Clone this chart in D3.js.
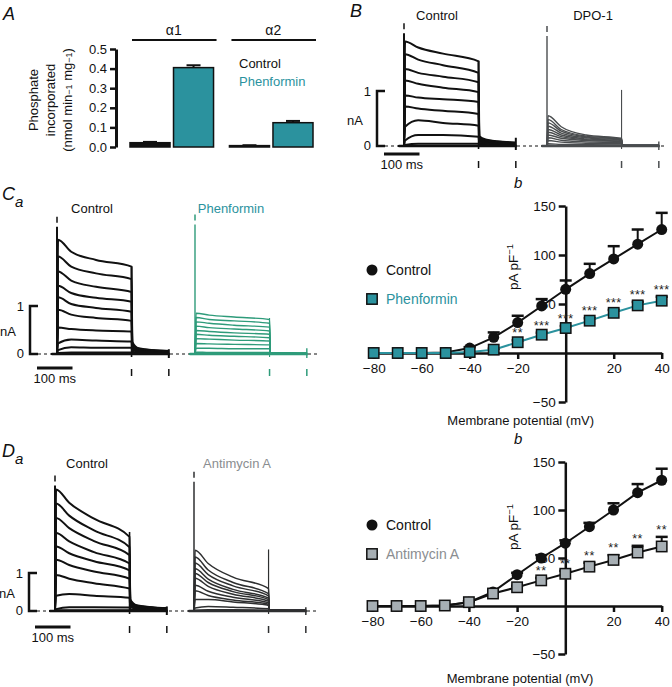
<!DOCTYPE html>
<html>
<head>
<meta charset="utf-8">
<script src="https://cdn.jsdelivr.net/npm/d3@7"></script>
<style>
  body { margin: 0; background: #fff; }
  text { font-family: "Liberation Sans", Arial, Helvetica, sans-serif; }
</style>
</head>
<body>
<script>
// ---------- data ----------
// Panel A: kinase activity
var isoforms = ["α1", "α2"];
var conditionsA = ["Control", "Phenformin"];
var activityA = [[0.022, 0.405], [0.007, 0.124]];
var activityErrA = [[0.004, 0.012], [0.002, 0.009]];
var ticksA = [0, 0.1, 0.2, 0.3, 0.4, 0.5];

// current traces: values (nA) at these times (ms from step onset)
var traceTimes = [-15, 0, 3, 40, 110, 210, 212, 230, 315];
// each trace: [t3, t40, t110, t210, tail212, tail230, tail315]
var tracesBCtrl = [
  [1.90, 1.79, 1.68, 1.54, 0.18, 0.12, 0.06],
  [1.67, 1.57, 1.47, 1.33, 0.16, 0.11, 0.06],
  [1.40, 1.33, 1.26, 1.16, 0.15, 0.10, 0.05],
  [1.19, 1.13, 1.06, 0.98, 0.13, 0.09, 0.05],
  [0.92, 0.88, 0.85, 0.80, 0.12, 0.08, 0.04],
  [0.72, 0.68, 0.64, 0.58, 0.10, 0.07, 0.04],
  [0.35, 0.47, 0.42, 0.37, 0.08, 0.06, 0.03],
  [0.10, 0.20, 0.20, 0.17, 0.06, 0.04, 0.02],
  [0.02, 0.04, 0.04, 0.04, 0.03, 0.02, 0.01]
];
var tracesDPO = [
  [0.55, 0.35, 0.20, 0.14, 0.02, 0.01, 0.01],
  [0.48, 0.30, 0.18, 0.13, 0.02, 0.01, 0.01],
  [0.42, 0.27, 0.165, 0.12, 0.02, 0.01, 0.01],
  [0.36, 0.235, 0.15, 0.11, 0.02, 0.01, 0.01],
  [0.30, 0.20, 0.13, 0.10, 0.02, 0.01, 0.01],
  [0.25, 0.17, 0.115, 0.09, 0.02, 0.01, 0.01],
  [0.20, 0.14, 0.10, 0.08, 0.02, 0.01, 0.01],
  [0.15, 0.105, 0.075, 0.06, 0.02, 0.01, 0.01],
  [0.10, 0.07, 0.05, 0.04, 0.02, 0.01, 0.01],
  [0.04, 0.03, 0.025, 0.02, 0.01, 0.01, 0.01]
];
var tracesCCtrl = [
  [2.38, 2.13, 1.96, 1.82, 0.25, 0.12, 0.06],
  [2.03, 1.82, 1.68, 1.56, 0.22, 0.11, 0.06],
  [1.72, 1.53, 1.40, 1.29, 0.20, 0.10, 0.05],
  [1.42, 1.27, 1.17, 1.09, 0.18, 0.09, 0.05],
  [1.18, 1.04, 0.96, 0.88, 0.16, 0.08, 0.04],
  [0.92, 0.82, 0.75, 0.69, 0.14, 0.07, 0.04],
  [0.55, 0.52, 0.49, 0.47, 0.12, 0.06, 0.03],
  [0.22, 0.30, 0.28, 0.26, 0.08, 0.05, 0.03],
  [0.08, 0.14, 0.13, 0.13, 0.05, 0.03, 0.02],
  [0.02, 0.03, 0.03, 0.03, 0.02, 0.01, 0.01]
];
var tracesPhen = [
  [0.85, 0.81, 0.77, 0.72, 0.03, 0.02, 0.01],
  [0.76, 0.72, 0.69, 0.64, 0.03, 0.02, 0.01],
  [0.67, 0.64, 0.60, 0.56, 0.03, 0.02, 0.01],
  [0.58, 0.55, 0.52, 0.48, 0.03, 0.02, 0.01],
  [0.49, 0.47, 0.44, 0.41, 0.03, 0.02, 0.01],
  [0.41, 0.39, 0.37, 0.34, 0.03, 0.02, 0.01],
  [0.32, 0.31, 0.29, 0.27, 0.03, 0.02, 0.01],
  [0.22, 0.21, 0.20, 0.19, 0.03, 0.02, 0.01],
  [0.12, 0.12, 0.11, 0.11, 0.03, 0.02, 0.01],
  [0.04, 0.03, 0.03, 0.03, 0.02, 0.01, 0.01]
];
var tracesDCtrl = [
  [3.20, 2.85, 2.43, 1.95, 0.30, 0.15, 0.07],
  [2.83, 2.51, 2.12, 1.68, 0.27, 0.14, 0.07],
  [2.45, 2.18, 1.84, 1.47, 0.25, 0.13, 0.06],
  [2.05, 1.83, 1.55, 1.25, 0.22, 0.12, 0.06],
  [1.70, 1.52, 1.31, 1.07, 0.20, 0.11, 0.05],
  [1.35, 1.21, 1.04, 0.85, 0.18, 0.10, 0.05],
  [0.95, 0.85, 0.73, 0.59, 0.15, 0.08, 0.04],
  [0.40, 0.45, 0.40, 0.35, 0.10, 0.06, 0.03],
  [0.05, 0.10, 0.10, 0.09, 0.05, 0.03, 0.02],
  [0.02, 0.02, 0.02, 0.02, 0.02, 0.01, 0.01]
];
var tracesAnti = [
  [1.60, 1.25, 0.89, 0.59, 0.03, 0.02, 0.01],
  [1.42, 1.08, 0.75, 0.46, 0.03, 0.02, 0.01],
  [1.26, 0.96, 0.66, 0.40, 0.03, 0.02, 0.01],
  [1.11, 0.84, 0.57, 0.34, 0.03, 0.02, 0.01],
  [0.99, 0.75, 0.51, 0.30, 0.03, 0.02, 0.01],
  [0.86, 0.65, 0.44, 0.26, 0.03, 0.02, 0.01],
  [0.68, 0.52, 0.36, 0.22, 0.03, 0.02, 0.01],
  [0.53, 0.41, 0.29, 0.18, 0.03, 0.02, 0.01],
  [0.30, 0.30, 0.24, 0.15, 0.03, 0.02, 0.01],
  [0.08, 0.12, 0.10, 0.06, 0.02, 0.01, 0.01],
  [0.02, 0.03, 0.03, 0.02, 0.01, 0.01, 0.01]
];
// capacitive spikes (nA): [onset, offset, tail end]
var spikesBCtrl = [2.05, 1.55, 0.15];
var spikesDPO = [2.0, 1.02, 0.08];
var spikesCCtrl = [2.65, 1.82, 0.10];
var spikesPhen = [2.7, 0.75, 0.12];
var spikesDCtrl = [3.3, 2.08, 0.12];
var spikesAnti = [3.4, 1.62, 0.10];

// I-V relations (pA/pF)
var voltages = [-80, -70, -60, -50, -40, -30, -20, -10, 0, 10, 20, 30, 40];
var ivCtrlC = [0, 0, 0, 0.5, 5, 16, 31, 48, 65, 81, 96, 111, 126];
var ivCtrlCErr = [0, 0, 0, 0.5, 1, 5, 7, 7, 9, 10, 13, 15, 17];
var ivPhen = [0, 0, 0, 0, 1, 3.4, 11, 18.7, 25.5, 33, 41, 48.6, 53.4];
var ivPhenErr = [0, 0, 0, 0, 0.5, 1, 2, 2, 2, 2.5, 3, 3.5, 4];
var starsPhen = ["", "", "", "", "", "", "**", "***", "***", "***", "***", "***", "***"];
var ivCtrlD = [0, 0, 0, 0.5, 4, 14.7, 32.6, 50, 65.4, 82.6, 100, 118, 131];
var ivCtrlDErr = [0, 0, 0, 0, 1, 2, 2, 3, 3, 4, 7, 9, 12];
var ivAnti = [0, 0, 0, 0.5, 4, 13, 19.5, 26.7, 33.6, 41, 48, 55.7, 62];
var ivAntiErr = [0, 0, 0, 0, 1, 1, 1.5, 2.5, 3, 4, 5, 7, 10];
var starsAnti = ["", "", "", "", "", "", "", "**", "**", "**", "**", "**", "**"];
var xTicksIV = [-80, -60, -40, -20, 20, 40];
var yTicksIV = [-50, 50, 100, 150];

// ---------- colours ----------
var teal = "#2b929e";
var green = "#2e9b7a";
var grey = "#8a8d90";

var svg = d3.select("body").append("svg")
  .attr("width", 672)
  .attr("height", 687);

function label(x, y, s, size, opts) {
  opts = opts || {};
  return svg.append("text")
    .attr("x", x).attr("y", y)
    .attr("font-size", size)
    .attr("text-anchor", opts.anchor || "start")
    .attr("font-style", opts.italic ? "italic" : null)
    .attr("fill", opts.fill || "#111")
    .text(s);
}
function minus(d) { return d < 0 ? "\u2212" + (-d) : d; }

// ---------- panel letters ----------
label(3, 20, "A", 18, { italic: true });
label(350, 17, "B", 18, { italic: true });
label(2, 200, "C", 18, { italic: true });
label(15, 207, "a", 15, { italic: true });
label(2, 457, "D", 18, { italic: true });
label(15, 464, "a", 15, { italic: true });
label(514, 188, "b", 15, { italic: true });
label(514, 444, "b", 15, { italic: true });

// ---------- panel A ----------
var yA = d3.scaleLinear().domain([0, 0.5]).range([147, 49]);
var xGroup = d3.scaleBand().domain(isoforms).range([130, 313]).paddingInner(0.16);
var xCond = d3.scaleBand().domain(conditionsA).range([0, xGroup.bandwidth()]).paddingInner(0.08);

var gA = svg.append("g");
gA.append("g")
  .attr("transform", "translate(116,0)")
  .call(d3.axisLeft(yA).tickValues(ticksA).tickFormat(d3.format(".1f")).tickSize(6).tickSizeOuter(0).tickPadding(3))
  .call(function (a) {
    a.select(".domain").attr("stroke-width", 3).attr("stroke", "#111");
    a.selectAll(".tick line").attr("stroke-width", 2.5).attr("stroke", "#111");
    a.selectAll(".tick text").attr("font-size", 13).attr("fill", "#111")
      .style("font-family", '"Liberation Sans", Arial, sans-serif');
  });

isoforms.forEach(function (iso, gi) {
  var gx = xGroup(iso);
  gA.append("line")
    .attr("x1", gx + 2).attr("x2", gx + xGroup.bandwidth() + 3)
    .attr("y1", 40).attr("y2", 40)
    .attr("stroke", "#111").attr("stroke-width", 2);
  label(gx + xGroup.bandwidth() / 2 + 2, 35, iso, 14, { anchor: "middle" });
  conditionsA.forEach(function (c, ci) {
    var v = activityA[gi][ci], e = activityErrA[gi][ci];
    var bx = gx + xCond(c), bw = xCond.bandwidth();
    var cx = bx + bw / 2;
    gA.append("line")
      .attr("x1", cx).attr("x2", cx)
      .attr("y1", yA(v)).attr("y2", yA(v + e))
      .attr("stroke", "#111").attr("stroke-width", 2);
    gA.append("line")
      .attr("x1", cx - 7).attr("x2", cx + 7)
      .attr("y1", yA(v + e)).attr("y2", yA(v + e))
      .attr("stroke", "#111").attr("stroke-width", 2);
    gA.append("rect")
      .attr("x", bx).attr("y", yA(v))
      .attr("width", bw).attr("height", yA(0) - yA(v))
      .attr("fill", ci === 0 ? "#111" : teal)
      .attr("stroke", "#111").attr("stroke-width", 1.5);
  });
});
label(239, 68, "Control", 13);
label(239, 86, "Phenformin", 13, { fill: teal });

var yLabA = svg.append("text")
  .attr("transform", "translate(0,100) rotate(-90)")
  .attr("text-anchor", "middle")
  .attr("font-size", 13)
  .attr("fill", "#111");
yLabA.append("tspan").attr("x", 0).attr("y", 38).text("Phosphate");
yLabA.append("tspan").attr("x", 0).attr("y", 55).text("incorporated");
var t3 = yLabA.append("tspan").attr("x", 0).attr("y", 72);
t3.append("tspan").text("(nmol min");
t3.append("tspan").attr("font-size", 9).text("\u22121");
t3.append("tspan").text(" mg");
t3.append("tspan").attr("font-size", 9).text("\u22121");
t3.append("tspan").text(")");

// ---------- current traces ----------
var msPx = 35.5; // pixels per 100 ms

function drawTraces(p) {
  var g = svg.append("g");
  var xt = d3.scaleLinear().domain([0, 100]).range([p.x0, p.x0 + msPx]);
  var yt = d3.scaleLinear().domain([0, 1]).range([p.y0, p.y0 - p.px]);
  var line = d3.line()
    .x(function (d, i) { return xt(traceTimes[i]); })
    .y(function (d) { return yt(d); })
    .curve(d3.curveMonotoneX);

  // on/off capacitive spikes
  g.append("line")
    .attr("x1", xt(0)).attr("x2", xt(0))
    .attr("y1", yt(p.spikes[0])).attr("y2", yt(0))
    .attr("stroke", p.color).attr("stroke-width", p.lw);
  g.append("line")
    .attr("x1", xt(210)).attr("x2", xt(210))
    .attr("y1", yt(p.spikes[1])).attr("y2", yt(0) + 3)
    .attr("stroke", p.color).attr("stroke-width", p.lw * 0.8);
  g.append("line")
    .attr("x1", xt(315)).attr("x2", xt(315))
    .attr("y1", yt(p.spikes[2])).attr("y2", yt(0) + 4)
    .attr("stroke", p.color).attr("stroke-width", p.lw);

  g.selectAll("path.trace")
    .data(p.traces)
    .enter().append("path")
    .attr("class", "trace")
    .attr("d", function (d) { return line([0, 0].concat(d)); })
    .attr("fill", "none")
    .attr("stroke", p.color)
    .attr("stroke-width", p.lw)
    .attr("stroke-linejoin", "round");

  // thick baseline
  g.append("line")
    .attr("x1", xt(-15)).attr("x2", xt(318))
    .attr("y1", yt(0)).attr("y2", yt(0))
    .attr("stroke", p.color).attr("stroke-width", 2.5);

  // timing marks
  g.append("line")
    .attr("x1", xt(0)).attr("x2", xt(0))
    .attr("y1", yt(p.spikes[0]) - 10).attr("y2", yt(p.spikes[0]) - 4)
    .attr("stroke", p.color).attr("stroke-width", 1.5);
  [210, 315].forEach(function (t) {
    g.append("line")
      .attr("x1", xt(t)).attr("x2", xt(t))
      .attr("y1", yt(0) + 15).attr("y2", yt(0) + 22)
      .attr("stroke", p.color).attr("stroke-width", 1.5);
  });
  return { xt: xt, yt: yt };
}

function drawScale(p) {
  var yt = d3.scaleLinear().domain([0, 1]).range([p.y0, p.y0 - p.px]);
  var g = svg.append("g");
  g.append("path")
    .attr("d", "M" + (p.bx + 8) + "," + yt(1) + "H" + p.bx + "V" + yt(0) + "H" + (p.bx + 8))
    .attr("fill", "none").attr("stroke", "#111").attr("stroke-width", 2.5);
  g.append("line")
    .attr("x1", p.bx + 8).attr("x2", p.xEnd)
    .attr("y1", yt(0)).attr("y2", yt(0))
    .attr("stroke", "#111").attr("stroke-width", 1)
    .attr("stroke-dasharray", "3,3");
  label(p.bx - 6, yt(1) + 5, "1", 13, { anchor: "end" });
  label(p.bx - 14, (yt(0) + yt(1)) / 2 + 6, "nA", 13, { anchor: "end" });
  label(p.bx - 6, yt(0) + 4, "0", 13, { anchor: "end" });
  var xs = d3.scaleLinear().domain([0, 100]).range([p.x0 - 20, p.x0 - 20 + msPx]);
  g.append("line")
    .attr("x1", xs(0)).attr("x2", xs(100))
    .attr("y1", p.barY).attr("y2", p.barY)
    .attr("stroke", "#111").attr("stroke-width", 3);
  label((xs(0) + xs(100)) / 2, p.barY + 15, "100 ms", 13, { anchor: "middle" });
}

// panel B
drawScale({ bx: 377, y0: 146, px: 55, x0: 404, xEnd: 664, barY: 154 });
drawTraces({ x0: 404, y0: 146, px: 55, traces: tracesBCtrl, spikes: spikesBCtrl, color: "#111", lw: 2 });
drawTraces({ x0: 547, y0: 146, px: 55, traces: tracesDPO, spikes: spikesDPO, color: "#4a4d4f", lw: 1.4 });
label(437, 20, "Control", 13, { anchor: "middle" });
label(593, 20, "DPO-1", 13, { anchor: "middle" });

// panel Ca
drawScale({ bx: 30, y0: 354, px: 48, x0: 57, xEnd: 320, barY: 368 });
drawTraces({ x0: 57, y0: 354, px: 48, traces: tracesCCtrl, spikes: spikesCCtrl, color: "#111", lw: 2 });
drawTraces({ x0: 195, y0: 354, px: 48, traces: tracesPhen, spikes: spikesPhen, color: green, lw: 1.4 });
label(92, 213, "Control", 13, { anchor: "middle" });
label(231, 213, "Phenformin", 13, { anchor: "middle", fill: teal });

// panel Da
drawScale({ bx: 29, y0: 611, px: 38, x0: 55, xEnd: 318, barY: 627 });
drawTraces({ x0: 55, y0: 611, px: 38, traces: tracesDCtrl, spikes: spikesDCtrl, color: "#111", lw: 2 });
drawTraces({ x0: 194, y0: 611, px: 38, traces: tracesAnti, spikes: spikesAnti, color: "#2e2f30", lw: 1.5 });
label(87, 468, "Control", 13, { anchor: "middle" });
label(237, 468, "Antimycin A", 13, { anchor: "middle", fill: grey });

// ---------- I-V panels ----------
function drawIV(p) {
  var x = d3.scaleLinear().domain([-80, 40]).range(p.xr);
  var y = d3.scaleLinear().domain([-50, 150]).range(p.yr);
  var g = svg.append("g");

  var styleAxis = function (a) {
    a.select(".domain").attr("stroke-width", 2.5).attr("stroke", "#111");
    a.selectAll(".tick line").attr("stroke-width", 2.5).attr("stroke", "#111");
    a.selectAll(".tick text").attr("font-size", 13.5).attr("fill", "#111")
      .style("font-family", '"Liberation Sans", Arial, sans-serif');
  };
  g.append("g")
    .attr("transform", "translate(0," + y(0) + ")")
    .call(d3.axisBottom(x).tickValues(xTicksIV).tickFormat(minus).tickSize(6).tickSizeOuter(0).tickPadding(4))
    .call(styleAxis);
  g.append("g")
    .attr("transform", "translate(" + x(0) + ",0)")
    .call(d3.axisLeft(y).tickValues(yTicksIV).tickFormat(minus).tickSize(7).tickSizeOuter(0).tickPadding(3))
    .call(styleAxis);

  var yl = g.append("text")
    .attr("transform", "translate(" + (p.yLabX) + "," + p.yLabY + ") rotate(-90)")
    .attr("text-anchor", "middle").attr("font-size", 13.5).attr("fill", "#111");
  yl.append("tspan").text("pA pF");
  yl.append("tspan").attr("font-size", 9.5).attr("dy", -5).text("\u22121");
  label((x(-80) + x(40)) / 2 + 3, p.xLabY, "Membrane potential (mV)", 13, { anchor: "middle" });

  var line = d3.line()
    .x(function (d, i) { return x(voltages[i]); })
    .y(function (d) { return y(d); });

  function series(vals, errs, lineColor, draw) {
    vals.forEach(function (v, i) {
      if (errs[i] < 0.8) return;
      var cx = x(voltages[i]);
      g.append("line").attr("x1", cx).attr("x2", cx)
        .attr("y1", y(v)).attr("y2", y(v + errs[i]))
        .attr("stroke", "#111").attr("stroke-width", 2);
      g.append("line").attr("x1", cx - 6).attr("x2", cx + 6)
        .attr("y1", y(v + errs[i])).attr("y2", y(v + errs[i]))
        .attr("stroke", "#111").attr("stroke-width", 2.5);
    });
    g.append("path").attr("d", line(vals))
      .attr("fill", "none").attr("stroke", lineColor).attr("stroke-width", 2);
    vals.forEach(function (v, i) { draw(g, x(voltages[i]), y(v)); });
  }

  function circle(gg, cx, cy) {
    gg.append("circle").attr("cx", cx).attr("cy", cy).attr("r", 5.5).attr("fill", "#111");
  }
  var square = function (fill) {
    return function (gg, cx, cy) {
      gg.append("rect").attr("x", cx - 5.2).attr("y", cy - 5.2)
        .attr("width", 10.4).attr("height", 10.4)
        .attr("fill", fill).attr("stroke", "#111").attr("stroke-width", 1.5);
    };
  };

  series(p.ctrl, p.ctrlErr, "#111", circle);
  series(p.drug, p.drugErr, p.drugLine, square(p.drugFill));

  p.stars.forEach(function (s, i) {
    if (!s) return;
    g.append("text")
      .attr("x", x(voltages[i])).attr("y", y(p.drug[i] + p.drugErr[i]) - 3)
      .attr("text-anchor", "middle").attr("font-size", 12.5).attr("fill", "#222")
      .attr("letter-spacing", 0.5)
      .text(s);
  });

  // legend
  circle(g, 372, p.legY);
  label(386, p.legY + 5, "Control", 14);
  square(p.drugFill)(g, 372, p.legY + 29);
  label(386, p.legY + 34, p.drugName, 14, { fill: p.drugText });
}

drawIV({
  xr: [373.7, 661.7], yr: [402, 206],
  ctrl: ivCtrlC, ctrlErr: ivCtrlCErr,
  drug: ivPhen, drugErr: ivPhenErr, stars: starsPhen,
  drugLine: teal, drugFill: teal, drugText: teal, drugName: "Phenformin",
  yLabX: 518, yLabY: 267, xLabY: 425, legY: 270
});
drawIV({
  xr: [372.5, 661.7], yr: [654, 462],
  ctrl: ivCtrlD, ctrlErr: ivCtrlDErr,
  drug: ivAnti, drugErr: ivAntiErr, stars: starsAnti,
  drugLine: "#111", drugFill: "#a7afb4", drugText: grey, drugName: "Antimycin A",
  yLabX: 518, yLabY: 527, xLabY: 683, legY: 525
});
</script>
</body>
</html>
